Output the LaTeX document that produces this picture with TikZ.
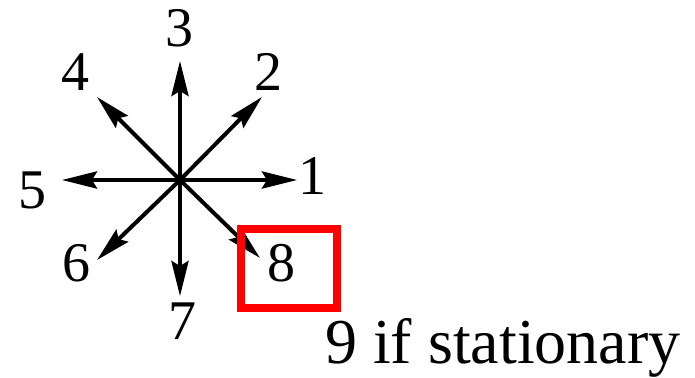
\documentclass[tikz,border=0pt]{standalone}
\usepackage{fontspec}
\setmainfont{Liberation Serif}
\usetikzlibrary{arrows.meta}

\begin{document}
\begin{tikzpicture}[x=1pt,y=-1pt,>={Stealth[length=35pt,width=17pt,inset=5pt]},
    dir/.style={->,line width=4pt},
    num/.style={inner sep=0pt,font=\fontsize{56}{60}\selectfont}]
    \useasboundingbox (0,0) rectangle (695,377);

    % centre of the star and the arrow tips
    \coordinate (c) at (180,180);
    \coordinate (t1) at (297,180);
    \coordinate (t2) at (262,97);
    \coordinate (t3) at (180,61);
    \coordinate (t4) at (97,97);
    \coordinate (t5) at (62,180);
    \coordinate (t6) at (97,260);
    \coordinate (t7) at (180,296);
    \coordinate (t8) at (260,258);

    % the eight directions
    \draw[dir] (c) -- (t1);
    \draw[dir] (c) -- (t2);
    \draw[dir] (c) -- (t3);
    \draw[dir] (c) -- (t4);
    \draw[dir] (c) -- (t5);
    \draw[dir] (c) -- (t6);
    \draw[dir] (c) -- (t7);
    \draw[dir] (c) -- (t8);

    % labels
    \node[num] (l1) at (312,176) {1};
    \node[num] (l2) at (268,72) {2};
    \node[num] (l3) at (179,28) {3};
    \node[num] (l4) at (75,72) {4};
    \node[num] (l5) at (32,190) {5};
    \node[num] (l6) at (76,263) {6};
    \node[num] (l7) at (182,321) {7};
    \node[num] (l8) at (281,263) {8};

    % highlight round 8
    \draw[red,line width=8pt] (241,229) rectangle (337,308);

    \node[inner sep=0pt,anchor=base west,font=\fontsize{64}{70}\selectfont] (stat) at (325,363) {9 if stationary};
\end{tikzpicture}
\end{document}
